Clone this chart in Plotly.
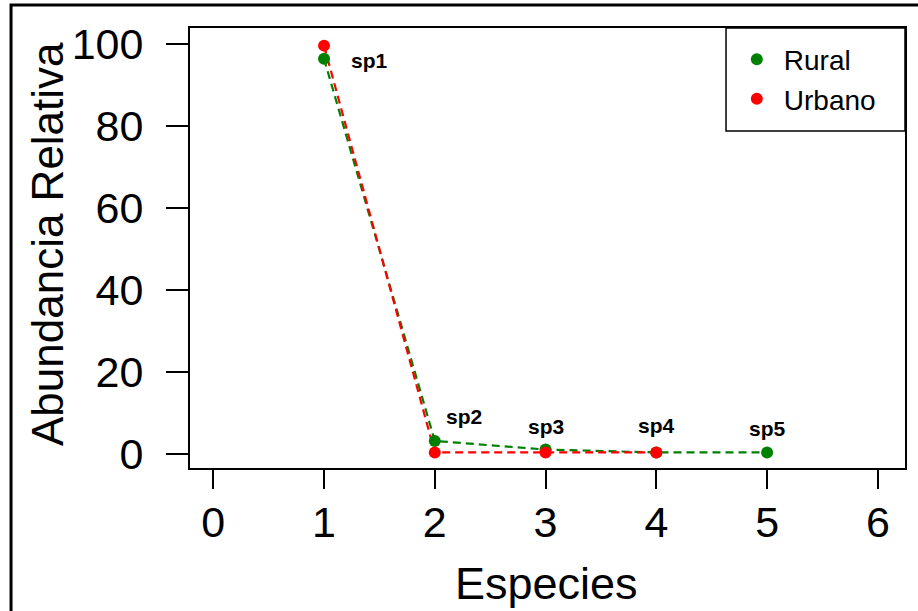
import plotly.graph_objects as go

# ---- data ----
species = ["sp1", "sp2", "sp3", "sp4", "sp5"]
rural_x = [1, 2, 3, 4, 5]
rural = [96.4, 3.2, 1.1, 0.4, 0.4]
urbano_x = [1, 2, 3, 4]
urbano = [99.6, 0.4, 0.4, 0.4]
x_ticks = [0, 1, 2, 3, 4, 5, 6]
y_ticks = [0, 20, 40, 60, 80, 100]
x_title = "Especies"
y_title = "Abundancia Relativa"

# ---- style ----
GREEN = "#008000"
RED = "#FF0000"
FONT = "Arial, Liberation Sans, sans-serif"
label_xshift = [45, 29, 0, 0, 0]
label_yshift = [-2, 24, 23, 27, 24]

fig = go.Figure()
fig.add_trace(go.Scatter(x=rural_x, y=rural, mode="lines", showlegend=False,
                         line=dict(color=GREEN, width=2.2, dash="8px,5px"), hoverinfo="skip"))
fig.add_trace(go.Scatter(x=urbano_x, y=urbano, mode="lines", showlegend=False,
                         line=dict(color=RED, width=2.2, dash="8px,5px"), hoverinfo="skip"))
fig.add_trace(go.Scatter(x=rural_x, y=rural, mode="markers", name="Rural",
                         marker=dict(color=GREEN, size=12)))
fig.add_trace(go.Scatter(x=urbano_x, y=urbano, mode="markers", name="Urbano",
                         marker=dict(color=RED, size=12)))

for i, sp in enumerate(species):
    fig.add_annotation(x=rural_x[i], y=rural[i], text="<b>%s</b>" % sp, showarrow=False,
                       xshift=label_xshift[i], yshift=label_yshift[i],
                       font=dict(family=FONT, size=21, color="black"))

# axis titles
fig.add_annotation(xref="paper", yref="paper", x=-0.2, y=0.509, text=y_title,
                   textangle=-90, showarrow=False, xanchor="center", yanchor="middle",
                   font=dict(family=FONT, size=44, color="black"))
fig.add_annotation(xref="paper", yref="paper", x=0.498, y=-0.262, text=x_title,
                   showarrow=False, xanchor="center", yanchor="middle",
                   font=dict(family=FONT, size=45, color="black"))

axis_common = dict(showline=True, linecolor="black", linewidth=2, mirror=True,
                   ticks="outside", tickwidth=2, tickcolor="black",
                   showgrid=False, zeroline=False,
                   tickfont=dict(family=FONT, size=43, color="black"))

fig.update_xaxes(range=[-0.21, 6.245], tickvals=x_ticks, ticklen=19, ticklabelstandoff=-4,
                 **axis_common)
fig.update_yaxes(range=[-3.4, 103.9], tickvals=y_ticks, ticklen=22, ticklabelstandoff=14,
                 **axis_common)

# outer frame (top/left visible) and legend box
fig.add_shape(type="rect", xref="paper", yref="paper",
              x0=-0.2503, x1=1.3, y0=-0.4, y1=1.0523,
              line=dict(color="black", width=3), layer="below")
fig.add_shape(type="rect", xref="paper", yref="paper",
              x0=0.7497, x1=1.0, y0=0.7659, y1=1.0,
              line=dict(color="black", width=1.5), fillcolor="white", layer="below")

fig.update_layout(
    width=918, height=611,
    margin=dict(l=190, r=13, t=28, b=143, autoexpand=False),
    paper_bgcolor="white", plot_bgcolor="white",
    font=dict(family=FONT, color="black"),
    legend=dict(x=0.755, y=0.985, xanchor="left", yanchor="top", itemwidth=44,
                bgcolor="rgba(0,0,0,0)", borderwidth=0,
                font=dict(family=FONT, size=28, color="black")),
)

fig.write_html("out.html", config={"displayModeBar": False},
               post_script="document.body.style.margin='0';")
